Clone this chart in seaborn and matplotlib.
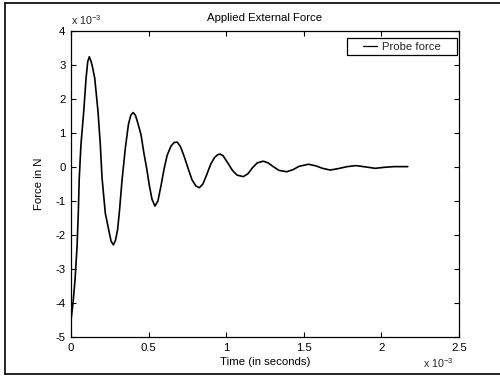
import matplotlib
matplotlib.use("Agg")
import matplotlib.pyplot as plt
from matplotlib.lines import Line2D
from matplotlib.patches import Rectangle
from matplotlib.ticker import FuncFormatter
import seaborn as sns
import pandas as pd

# Data (time in units of 1e-3 s, force in units of 1e-3 N)
time_ms = [0.000, 0.013, 0.026, 0.039, 0.047, 0.053, 0.064, 0.082, 0.097, 0.108,
           0.118, 0.128, 0.138, 0.153, 0.174, 0.189, 0.200, 0.221, 0.243, 0.258,
           0.273, 0.287, 0.300, 0.311, 0.329, 0.350, 0.370, 0.385, 0.400, 0.415,
           0.430, 0.451, 0.470, 0.488, 0.505, 0.522, 0.541, 0.560, 0.580, 0.600,
           0.620, 0.645, 0.665, 0.685, 0.705, 0.730, 0.755, 0.780, 0.805, 0.827,
           0.850, 0.875, 0.900, 0.925, 0.945, 0.960, 0.980, 1.010, 1.040, 1.070,
           1.110, 1.140, 1.170, 1.200, 1.239, 1.270, 1.300, 1.340, 1.390, 1.430,
           1.470, 1.530, 1.580, 1.620, 1.670, 1.720, 1.780, 1.836, 1.900, 1.960,
           2.020, 2.080, 2.170]
force_mN = [-4.50, -4.00, -3.32, -2.34, -1.36, -0.35, 0.65, 1.63, 2.61, 3.10,
            3.24, 3.12, 2.95, 2.61, 1.63, 0.65, -0.32, -1.36, -1.85, -2.18,
            -2.29, -2.15, -1.85, -1.36, -0.38, 0.55, 1.25, 1.52, 1.60, 1.52,
            1.30, 0.95, 0.40, -0.05, -0.55, -0.95, -1.15, -1.00, -0.55, -0.05,
            0.35, 0.62, 0.72, 0.73, 0.60, 0.30, -0.05, -0.38, -0.56, -0.61,
            -0.50, -0.22, 0.08, 0.28, 0.36, 0.38, 0.33, 0.12, -0.10, -0.24,
            -0.285, -0.20, -0.02, 0.12, 0.17, 0.12, 0.02, -0.10, -0.14, -0.08,
            0.02, 0.08, 0.03, -0.04, -0.09, -0.05, 0.01, 0.04, 0.00, -0.04,
            -0.01, 0.01, 0.01]
series_name = "Probe force"
x_ticks = [0, 0.5, 1, 1.5, 2, 2.5]
y_ticks = [-5, -4, -3, -2, -1, 0, 1, 2, 3, 4]

sns.set_theme(style="ticks")
plt.rcParams["font.family"] = ["Liberation Sans", "DejaVu Sans"]
plt.rcParams["axes.unicode_minus"] = False
plt.rcParams["mathtext.fontset"] = "custom"
plt.rcParams["mathtext.rm"] = "Liberation Sans"

FS = 8.2
fig = plt.figure(figsize=(5.0, 3.77), dpi=100)
fig.patch.set_facecolor("white")
ax = fig.add_axes([0.142, 0.106, 0.776, 0.812])

df = pd.DataFrame({"t": time_ms, "f": force_mN, "s": series_name})
sns.lineplot(data=df, x="t", y="f", ax=ax, color="black", linewidth=1.2,
             legend=False, estimator=None)

ax.set_xlim(0, 2.5)
ax.set_ylim(-5, 4)
ax.set_xticks(x_ticks)
ax.set_yticks(y_ticks)
fmt = FuncFormatter(lambda v, p: "%g" % v)
ax.xaxis.set_major_formatter(fmt)
ax.yaxis.set_major_formatter(fmt)
ax.tick_params(direction="in", top=True, right=True, length=3.5, width=0.8,
               labelsize=FS, colors="black", pad=4)
for s in ax.spines.values():
    s.set_visible(True)
    s.set_color("black")
    s.set_linewidth(0.9)

ax.set_title("Applied External Force", fontsize=FS, pad=7, color="black")
ax.set_xlabel("Time (in seconds)", fontsize=FS, labelpad=3, color="black")
ax.set_ylabel("Force in N", fontsize=FS, labelpad=8, color="black")

# exponent labels (MATLAB style)
ax.text(0.0, 1.012, r"x 10$^{\mathregular{-3}}$", transform=ax.transAxes,
        fontsize=FS - 0.5, ha="left", va="bottom")
ax.text(0.985, -0.062, r"x 10$^{\mathregular{-3}}$", transform=ax.transAxes,
        fontsize=FS - 0.5, ha="right", va="top")

# legend
ax.add_patch(Rectangle((0.711, 0.922), 0.284, 0.055, transform=ax.transAxes,
                       facecolor="white", edgecolor="black", linewidth=0.9,
                       zorder=4))
leg = ax.legend(handles=[Line2D([], [], color="black", linewidth=0.9)],
                labels=[series_name], loc="center",
                bbox_to_anchor=(0.853, 0.949), frameon=False, fontsize=FS,
                handlelength=1.25, handletextpad=0.45, borderpad=0,
                borderaxespad=0)
leg.set_zorder(5)

# outer frame of the figure (scanned page border)
for coords in [((0.01, 0.01), (0.008, 0.992)),
               ((0.01, 1.0), (0.992, 0.992)),
               ((0.01, 1.0), (0.008, 0.008))]:
    fig.add_artist(Line2D(coords[0], coords[1], transform=fig.transFigure,
                          color="black", linewidth=1.2))

fig.savefig("out.png", dpi=100, facecolor="white")
